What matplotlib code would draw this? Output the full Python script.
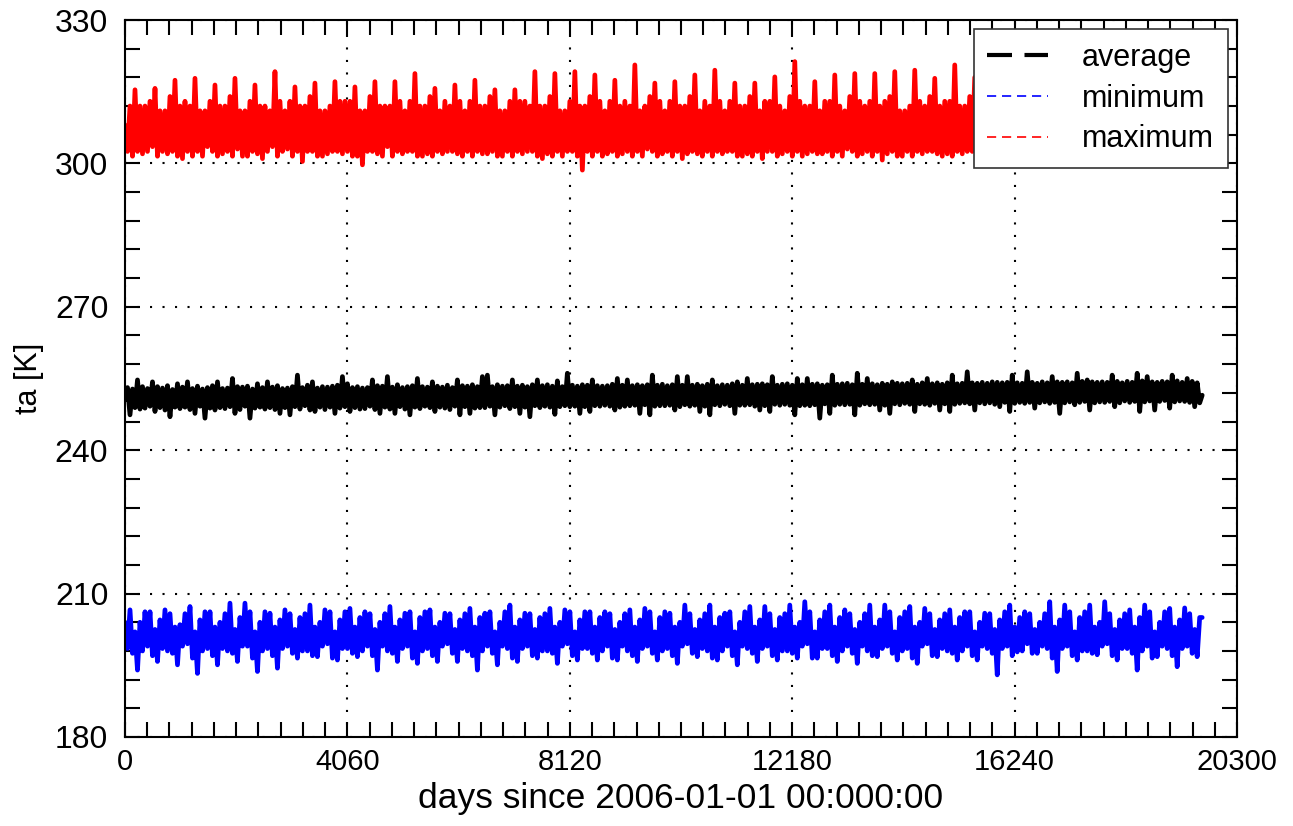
import numpy as np
import matplotlib
matplotlib.use("Agg")
import matplotlib.pyplot as plt
from matplotlib.ticker import MultipleLocator
from matplotlib.lines import Line2D

# ---------------------------------------------------------------
# data: 8 samples per year (every 45.625 days)
STEP = 45.625

average = [
    250.5, 253.1, 247.4, 252.8, 248.9, 254.7, 248.6, 253.3,
    248.8, 252.9, 249.2, 254.3, 248.1, 253.3, 248.9, 253.0,
    248.4, 253.5, 247.0, 252.7, 249.0, 253.9, 248.7, 253.2,
    249.0, 254.3, 248.5, 252.9, 247.7, 253.4, 249.2, 252.8,
    246.7, 253.1, 248.8, 253.5, 248.4, 254.3, 248.9, 252.9,
    248.7, 253.0, 249.1, 255.0, 247.7, 253.3, 248.5, 253.2,
    249.2, 253.4, 246.7, 252.8, 248.8, 253.9, 249.0, 253.1,
    248.6, 254.3, 248.9, 253.2, 248.5, 253.5, 247.7, 252.9,
    248.9, 253.0, 247.4, 253.3, 249.1, 255.7, 248.6, 253.1,
    249.3, 253.6, 248.4, 254.3, 248.1, 253.0, 249.0, 253.3,
    248.5, 253.2, 249.0, 253.4, 247.7, 253.6, 248.8, 255.4,
    249.1, 253.9, 248.1, 253.1, 248.9, 253.3, 248.6, 253.0,
    248.7, 253.1, 249.2, 254.7, 248.5, 253.5, 247.7, 253.4,
    249.0, 255.4, 248.6, 253.2, 247.7, 253.7, 249.1, 253.1,
    248.6, 253.3, 247.4, 253.5, 249.0, 255.0, 248.7, 253.3,
    249.2, 253.2, 248.9, 254.3, 248.1, 253.4, 249.0, 253.2,
    248.8, 253.6, 248.5, 253.1, 249.2, 254.7, 247.4, 253.5,
    249.1, 253.4, 247.7, 253.7, 248.8, 253.3, 248.9, 255.4,
    248.9, 255.7, 249.2, 253.3, 247.4, 253.7, 249.0, 253.4,
    249.3, 253.5, 248.7, 254.7, 249.1, 253.4, 247.7, 253.6,
    249.0, 253.3, 247.0, 253.7, 249.3, 254.7, 248.9, 253.5,
    249.2, 253.7, 249.0, 253.4, 247.5, 254.5, 249.1, 253.3,
    249.3, 256.1, 249.1, 253.6, 249.2, 253.4, 247.7, 253.7,
    249.1, 253.6, 248.1, 254.7, 249.3, 253.5, 249.2, 253.4,
    249.4, 253.5, 249.2, 253.8, 248.4, 255.0, 249.0, 253.6,
    249.2, 254.7, 249.3, 253.5, 249.4, 253.7, 247.7, 253.5,
    249.5, 253.7, 247.4, 255.7, 249.2, 253.6, 249.3, 253.8,
    249.3, 253.5, 249.4, 253.7, 248.4, 255.4, 249.1, 253.6,
    249.5, 255.4, 249.2, 253.6, 249.4, 253.8, 248.1, 253.5,
    249.2, 253.8, 247.4, 254.7, 249.5, 253.5, 249.3, 253.7,
    249.6, 253.6, 249.3, 253.9, 247.7, 254.3, 249.4, 253.6,
    249.4, 255.0, 249.5, 253.7, 249.2, 253.8, 248.4, 253.9,
    249.3, 253.7, 248.1, 255.4, 249.6, 253.6, 249.4, 253.8,
    249.6, 253.9, 249.4, 253.6, 247.4, 255.0, 249.3, 253.7,
    249.4, 255.0, 249.3, 253.8, 249.5, 253.9, 246.7, 253.6,
    249.7, 253.7, 247.7, 255.7, 249.4, 253.8, 249.6, 253.9,
    249.5, 254.0, 249.6, 253.7, 247.4, 256.1, 249.4, 253.8,
    249.7, 255.0, 249.5, 253.9, 249.6, 253.7, 248.4, 254.0,
    249.4, 253.8, 247.7, 254.3, 249.7, 254.0, 249.5, 253.9,
    249.8, 254.0, 249.6, 254.7, 248.1, 253.8, 249.7, 254.1,
    249.6, 255.0, 249.4, 253.9, 249.8, 254.1, 248.4, 253.8,
    249.7, 254.1, 248.1, 255.7, 249.6, 253.9, 249.8, 254.0,
    249.9, 256.4, 249.7, 254.1, 248.4, 254.0, 249.9, 254.2,
    249.7, 254.0, 249.9, 254.3, 249.6, 254.2, 249.1, 254.1,
    250.0, 254.2, 248.1, 255.7, 249.8, 254.1, 250.0, 254.0,
    249.8, 256.4, 250.0, 254.2, 248.8, 254.0, 249.9, 254.3,
    250.1, 254.1, 249.8, 255.4, 250.0, 254.3, 247.7, 254.2,
    249.9, 254.3, 250.1, 254.1, 249.5, 256.1, 250.0, 254.4,
    250.2, 254.7, 248.4, 254.3, 249.9, 254.2, 250.1, 254.3,
    250.0, 254.2, 250.2, 255.7, 249.1, 254.4, 249.9, 254.1,
    250.3, 254.4, 250.0, 254.2, 250.2, 256.1, 248.1, 254.5,
    250.1, 255.4, 250.3, 254.3, 248.4, 254.2, 250.2, 254.4,
    250.4, 254.3, 248.8, 255.7, 250.1, 254.5, 250.3, 254.2,
    250.2, 255.0, 250.0, 254.4, 249.1, 254.1, 249.9, 251.5,
]

minimum = [
    204.0, 198.5, 206.6, 197.5, 202.0, 194.0, 204.0, 198.0,
    206.2, 199.0, 206.2, 197.0, 202.5, 195.8, 204.5, 198.5,
    206.6, 198.0, 205.8, 197.5, 203.0, 195.1, 203.5, 199.0,
    205.8, 199.5, 207.3, 196.5, 202.0, 193.3, 204.5, 198.0,
    206.2, 198.5, 206.2, 197.0, 203.0, 195.1, 204.0, 198.5,
    205.8, 198.0, 208.0, 197.5, 202.5, 195.8, 205.0, 199.0,
    208.0, 199.0, 206.2, 196.5, 202.0, 193.7, 204.0, 198.0,
    206.2, 198.5, 205.9, 197.0, 203.0, 194.4, 204.5, 198.5,
    206.6, 199.0, 205.8, 197.5, 202.5, 196.5, 205.0, 198.0,
    205.8, 198.0, 207.6, 197.0, 203.0, 196.8, 204.0, 199.0,
    206.6, 199.5, 206.2, 196.5, 202.0, 196.1, 204.5, 198.5,
    206.2, 198.5, 206.9, 197.5, 203.0, 196.8, 205.0, 198.0,
    206.2, 199.0, 205.8, 197.0, 202.5, 194.0, 204.0, 199.0,
    205.8, 198.0, 207.3, 197.5, 203.0, 195.8, 204.5, 198.5,
    205.9, 199.0, 206.2, 196.5, 202.0, 195.4, 205.0, 198.0,
    206.2, 198.5, 206.6, 197.0, 203.0, 195.8, 204.0, 199.0,
    205.9, 199.5, 205.8, 197.5, 202.5, 195.8, 204.5, 198.5,
    205.8, 198.0, 206.9, 197.0, 203.0, 194.0, 205.0, 198.0,
    205.9, 199.0, 206.2, 197.5, 202.0, 195.1, 204.0, 199.0,
    206.2, 198.5, 207.6, 196.5, 203.0, 195.8, 204.5, 198.5,
    205.9, 199.0, 205.8, 197.0, 202.5, 196.5, 205.0, 198.0,
    205.8, 198.0, 206.9, 197.5, 203.0, 195.4, 204.0, 199.0,
    206.6, 199.5, 206.2, 197.0, 202.0, 196.1, 204.5, 198.5,
    206.2, 198.5, 206.2, 197.5, 203.0, 196.1, 205.0, 198.0,
    206.2, 199.0, 205.8, 196.5, 202.5, 196.1, 204.0, 199.0,
    205.8, 198.0, 206.6, 197.0, 203.0, 195.8, 204.5, 198.5,
    206.9, 199.0, 206.2, 197.5, 202.0, 196.1, 205.0, 198.0,
    206.2, 198.5, 205.9, 197.0, 203.0, 195.4, 204.0, 199.0,
    207.6, 199.5, 205.8, 197.5, 202.5, 196.8, 204.5, 198.5,
    205.8, 198.0, 207.6, 196.5, 203.0, 196.1, 205.0, 198.0,
    205.9, 199.0, 206.2, 197.0, 202.0, 195.1, 204.0, 199.0,
    206.2, 198.5, 207.3, 197.5, 203.0, 195.8, 204.5, 198.5,
    207.3, 199.0, 205.8, 197.0, 202.5, 196.1, 205.0, 198.0,
    205.8, 198.0, 207.6, 197.5, 203.0, 196.5, 204.0, 199.0,
    208.3, 199.5, 206.2, 196.5, 202.0, 196.5, 204.5, 198.5,
    206.2, 198.5, 207.6, 197.0, 203.0, 195.8, 205.0, 198.0,
    206.6, 199.0, 205.8, 197.5, 202.5, 195.4, 204.0, 199.0,
    205.8, 198.0, 207.6, 197.0, 203.0, 196.8, 204.5, 198.5,
    207.6, 199.0, 206.2, 197.5, 202.0, 196.1, 205.0, 198.0,
    206.2, 198.5, 207.3, 196.5, 203.0, 195.4, 204.0, 199.0,
    206.9, 199.5, 205.8, 197.0, 202.5, 196.8, 204.5, 198.5,
    205.8, 198.0, 206.6, 197.5, 203.0, 196.1, 205.0, 198.0,
    206.2, 199.0, 206.2, 197.0, 202.0, 196.1, 204.0, 199.0,
    205.9, 198.5, 205.8, 197.5, 202.5, 193.0, 204.5, 198.5,
    206.2, 199.0, 207.6, 197.0, 203.0, 197.8, 205.0, 198.0,
    206.2, 199.5, 205.8, 197.5, 202.5, 197.5, 204.0, 199.0,
    205.8, 198.5, 208.3, 196.5, 203.0, 193.7, 204.5, 198.5,
    207.6, 199.0, 206.2, 197.0, 202.0, 196.1, 205.0, 198.0,
    206.2, 198.0, 207.6, 197.5, 203.0, 197.2, 204.0, 199.0,
    208.3, 199.5, 205.8, 197.0, 202.5, 196.1, 204.5, 198.5,
    205.8, 198.5, 206.6, 197.5, 203.0, 194.0, 205.0, 198.0,
    207.6, 199.0, 206.2, 196.5, 202.0, 196.8, 204.0, 199.0,
    206.2, 198.5, 206.9, 197.0, 203.0, 194.7, 204.5, 198.5,
    207.0, 199.0, 205.8, 197.5, 202.5, 196.8, 205.0, 205.0,
]

maximum = [
    308, 302.5, 312, 301.5, 315.4, 302.5, 312, 302,
    312, 302.5, 313, 303.5, 315.7, 301.5, 311, 302.5,
    311, 302, 314, 302.5, 317.4, 301.5, 312, 301,
    313, 302.5, 312, 301.5, 317.8, 302.5, 311, 301.5,
    311, 303.5, 313, 302.5, 316.4, 301.5, 312, 302,
    312, 302.5, 314, 301.5, 317.8, 303, 311, 301.5,
    311, 301.5, 313, 302.5, 316.4, 302, 312, 301,
    312, 302.5, 311, 303.5, 319.2, 301.5, 313, 302.5,
    311, 303, 313, 301.5, 316.0, 302.5, 312, 300.4,
    312, 302.5, 314, 302.5, 316.8, 301.5, 311, 301.5,
    311, 302, 312, 302.5, 317.1, 302.5, 313, 302,
    313, 302.5, 313, 301.5, 316.0, 301.5, 311, 299.7,
    311, 302.5, 314, 302.5, 317.1, 302, 312, 301.5,
    312, 303.5, 312, 301.5, 317.1, 302.5, 313, 302,
    311, 302.5, 313, 302.5, 318.8, 301.5, 312, 301.5,
    312, 302, 314, 301.5, 315.7, 302.5, 311, 302,
    313, 302.5, 312, 302.5, 316.4, 302, 313, 301.5,
    311, 302.5, 313, 301.5, 317.4, 302.5, 312, 302,
    312, 302, 314, 302.5, 315.4, 301.5, 311, 301.5,
    311, 302.5, 313, 301.5, 315.4, 302.5, 313, 302,
    313, 302.5, 312, 302.5, 319.2, 301.5, 312, 301,
    312, 302, 314, 301.5, 318.8, 302.5, 311, 301.5,
    311, 302.5, 313, 302.5, 319.2, 301.5, 312, 298.6,
    312, 302.5, 314, 301.5, 318.5, 302.5, 313, 301.5,
    311, 302, 313, 302.5, 317.4, 301.5, 312, 302,
    313, 302.5, 312, 301.5, 320.6, 302.5, 311, 301.5,
    312, 303, 314, 302.5, 316.8, 301.5, 313, 302,
    311, 302.5, 313, 301.5, 317.1, 302.5, 312, 301,
    312, 302, 314, 302.5, 318.5, 302, 311, 301.5,
    313, 302.5, 312, 301.5, 319.5, 302.5, 313, 302,
    311, 302.5, 313, 302.5, 316.8, 301.5, 312, 301.5,
    312, 302, 314, 301.5, 316.8, 302.5, 311, 301,
    313, 302.5, 313, 302.5, 318.1, 301.5, 312, 302,
    311, 302.5, 314, 301.5, 321.3, 302.5, 313, 301.5,
    312, 302, 312, 302.5, 317.1, 302, 311, 302,
    313, 302.5, 313, 301.5, 318.5, 302.5, 312, 301.5,
    311, 303, 314, 302.5, 318.8, 301.5, 313, 302,
    312, 302.5, 313, 301.5, 318.8, 302.5, 312, 300.7,
    313, 302, 314, 302.5, 319.2, 301.5, 311, 301.5,
    311, 302.5, 312, 301.5, 319.5, 302.5, 313, 302,
    312, 302.5, 314, 302.5, 317.8, 302, 312, 301.5,
    313, 302, 313, 301.5, 320.6, 302.5, 312, 302,
    312, 302.5, 314, 302.5, 318, 301.5, 313, 301.5,
    311, 302.5, 313, 301.5, 319, 302.5, 312, 302,
    313, 302, 314, 302.5, 317.5, 301.5, 311, 301.5,
    312, 302.5, 313, 301.5, 320, 302.5, 313, 302,
    311, 303, 314, 302.5, 318, 302, 312, 301.5,
    313, 302.5, 312, 301.5, 319, 302.5, 313, 302,
    312, 302, 314, 302.5, 317, 301.5, 312, 301.5,
    311, 302.5, 313, 301.5, 318.5, 302.5, 311, 302,
    313, 302.5, 314, 302.5, 320, 302, 313, 301.5,
    312, 302, 313, 301.5, 318, 302.5, 312, 302,
    311, 302.5, 314, 302.5, 319, 301.5, 313, 301.5,
    313, 302.5, 312, 301.5, 318, 302.5, 312, 305,
]

names = ['average', 'minimum', 'maximum']
colors = ['black', 'blue', 'red']

x_ticks = [0, 4060, 8120, 12180, 16240, 20300]
y_ticks = [180, 210, 240, 270, 300, 330]

days = np.arange(len(average)) * STEP

# ---------------------------------------------------------------
fig = plt.figure(figsize=(12.93, 8.26), dpi=100)
ax = fig.add_axes([125/1293, 1 - 737/826, 1112/1293, 717/826])

# dense daily-looking traces: thick lines so the zigzag fills in
for serie, c in zip([average, minimum, maximum], colors):
    ax.plot(days, serie, color=c, lw=3.4, solid_joinstyle='round',
            solid_capstyle='round')

ax.set_xlim(0, 20300)
ax.set_ylim(180, 330)
ax.set_xticks(x_ticks)
ax.set_yticks(y_ticks)
ax.xaxis.set_minor_locator(MultipleLocator(406))
ax.yaxis.set_minor_locator(MultipleLocator(6))
ax.grid(which='major', color='black', linestyle=(0, (1, 5)), lw=1.5)
ax.tick_params(which='both', direction='in', top=True, right=True,
               length=11, width=1.5)
ax.tick_params(axis='y', pad=12)
ax.tick_params(axis='x', pad=8)
for s in ax.spines.values():
    s.set_linewidth(1.5)

for lab in ax.get_yticklabels():
    lab.set_fontfamily(['Liberation Sans', 'DejaVu Sans'])
    lab.set_fontsize(23)
for lab in ax.get_xticklabels():
    lab.set_fontfamily(['Liberation Sans', 'DejaVu Sans'])
    lab.set_fontsize(21)

ax.set_xlabel('days since 2006-01-01 00:000:00', fontsize=25.5,
              family=['Liberation Sans', 'DejaVu Sans'], labelpad=4)
ax.set_ylabel('ta [K]', fontsize=22, family=['Liberation Sans', 'DejaVu Sans'],
              labelpad=8)

handles = [
    Line2D([], [], color='black', lw=3, dashes=(6, 3)),
    Line2D([], [], color='blue', lw=1.2, dashes=(5.5, 3.5)),
    Line2D([], [], color='red', lw=1.2, dashes=(5.5, 3.5)),
]
leg = ax.legend(handles, names, loc='upper right', fancybox=False,
                framealpha=1, edgecolor='#333333',
                prop={'family': 'Liberation Sans', 'size': 22},
                handlelength=2.0, handletextpad=1.1, borderpad=0.45,
                labelspacing=0.35, borderaxespad=0.3)
leg.get_frame().set_linewidth(1.2)

fig.savefig('out.png', dpi=100)
